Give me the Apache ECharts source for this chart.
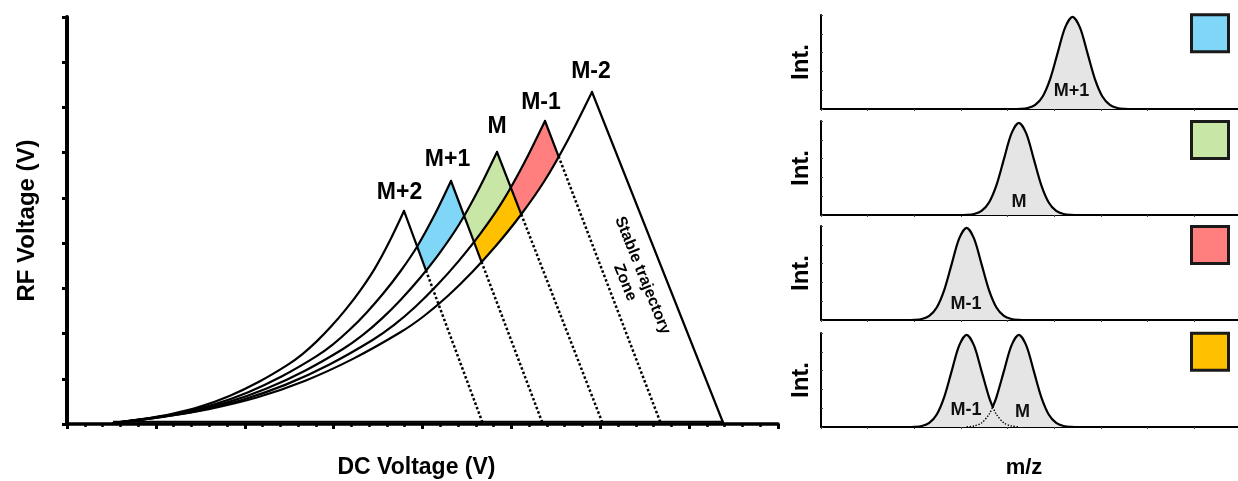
<!DOCTYPE html>
<html>
<head>
<meta charset="utf-8">
<script src="https://cdn.jsdelivr.net/npm/echarts@6/dist/echarts.min.js"></script>
<style>
  html, body { margin: 0; padding: 0; background: #fff; }
  #chart { width: 1238px; height: 481px; }
</style>
</head>
<body>
<div id="chart"></div>
<script>
// ---- left panel: stability diagrams, DC voltage (x) vs RF voltage (y) ----
const curveMp2 = [[0.5176,0.0221],[0.8450,0.1065],[1.1724,0.2190],[1.4999,0.3831],[1.8273,0.6175],[2.1547,0.9269],[2.4821,1.3067],[2.6459,1.5411],[2.8096,1.8271],[2.9733,2.1599],[3.1370,2.5350],[3.3007,2.9569],[3.4644,3.4422],[3.6281,4.0352],[3.7918,4.7103]];
const curveMp1 = [[0.5176,0.0221],[0.8979,0.1184],[1.2782,0.2469],[1.6585,0.4342],[2.0388,0.7018],[2.4191,1.0550],[2.7994,1.4885],[2.9896,1.7560],[3.1797,2.0825],[3.3699,2.4625],[3.5601,2.8906],[3.7502,3.3722],[3.9404,3.9261],[4.1305,4.6031],[4.3207,5.3737]];
const curveM   = [[0.5176,0.0221],[0.9497,0.1300],[1.3817,0.2738],[1.8138,0.4836],[2.2459,0.7832],[2.6779,1.1788],[3.1100,1.6642],[3.3260,1.9638],[3.5420,2.3294],[3.7581,2.7549],[3.9741,3.2343],[4.1901,3.7737],[4.4062,4.3940],[4.6222,5.1521],[4.8383,6.0150]];
const curveMm1 = [[0.5176,0.0221],[1.0037,0.1423],[1.4897,0.3026],[1.9758,0.5364],[2.4619,0.8703],[2.9480,1.3111],[3.4340,1.8520],[3.6771,2.1859],[3.9201,2.5933],[4.1632,3.0675],[4.4062,3.6018],[4.6492,4.2028],[4.8923,4.8941],[5.1353,5.7389],[5.3783,6.7006]];
const curveMm2 = [[0.5176,0.0221],[1.0565,0.1539],[1.5955,0.3295],[2.1344,0.5857],[2.6734,0.9517],[3.2124,1.4348],[3.7513,2.0277],[4.0208,2.3937],[4.2903,2.8402],[4.5598,3.3599],[4.8293,3.9455],[5.0987,4.6043],[5.3682,5.3619],[5.6377,6.2878],[5.9072,7.3419]];

// right-hand edges (solid part) and their dotted continuation down to the axis
const sideMp2 = [[3.7918,4.7103],[4.039,3.397]];
const sideMp1 = [[4.3207,5.3737],[4.664,3.587]];
const sideM   = [[4.8383,6.0150],[5.111,4.637]];
const sideMm1 = [[5.3783,6.7006],[5.531,5.920]];
const sideMm2 = [[5.9072,7.3419],[7.388,0]];
const dotMp2 = [[4.039,3.397],[4.681,0]];
const dotMp1 = [[4.664,3.587],[5.354,0]];
const dotM   = [[5.111,4.637],[6.030,0]];
const dotMm1 = [[5.531,5.920],[6.684,0]];
const baseLine = [[0.5176,0.05],[7.388,0.05]];

// coloured zones (corners on the curves / edges above)
const zoneBlue   = [[3.9404,3.9261],[4.1305,4.6031],[4.3207,5.3737],[4.468,4.609],[4.4062,4.3940],[4.1901,3.7737],[4.039,3.397]];
const zoneGreen  = [[4.468,4.609],[4.6222,5.1521],[4.8383,6.0150],[4.991,5.241],[4.8923,4.8941],[4.6492,4.2028],[4.579,4.029]];
const zoneOrange = [[4.579,4.029],[4.6492,4.2028],[4.8923,4.8941],[4.991,5.241],[5.111,4.637],[5.0987,4.6043],[4.8293,3.9455],[4.664,3.587]];
const zoneRed    = [[4.991,5.241],[5.1353,5.7389],[5.3783,6.7006],[5.531,5.920],[5.3682,5.3619],[5.111,4.637]];

const diagramLabels = [
  { text: 'M+2', x: 399.5, y: 192.5 },
  { text: 'M+1', x: 447.5, y: 160 },
  { text: 'M',   x: 497,   y: 126.5 },
  { text: 'M-1', x: 541,   y: 102.5 },
  { text: 'M-2', x: 591,   y: 71.5 }
];

// ---- right panels: spectra ----
const peakMp1 = [[4.09,0],[4.27,0.002],[4.43,0.011],[4.59,0.043],[4.75,0.133],[4.91,0.318],[5.07,0.594],[5.23,0.865],[5.39,0.98],[5.55,0.865],[5.71,0.594],[5.87,0.318],[6.03,0.133],[6.19,0.043],[6.35,0.011],[6.51,0.002],[6.69,0]];
const peakM   = [[2.94,0],[3.12,0.002],[3.28,0.011],[3.44,0.043],[3.60,0.133],[3.76,0.318],[3.92,0.594],[4.08,0.865],[4.24,0.98],[4.40,0.865],[4.56,0.594],[4.72,0.318],[4.88,0.133],[5.04,0.043],[5.20,0.011],[5.36,0.002],[5.54,0]];
const peakMm1 = [[1.82,0],[2.00,0.002],[2.16,0.011],[2.32,0.043],[2.48,0.133],[2.64,0.318],[2.80,0.594],[2.96,0.865],[3.12,0.98],[3.28,0.865],[3.44,0.594],[3.60,0.318],[3.76,0.133],[3.92,0.043],[4.08,0.011],[4.24,0.002],[4.42,0]];
// last panel: both peaks, they cross at x = 3.68
const mixMm1 = [[1.82,0],[2.00,0.002],[2.16,0.011],[2.32,0.043],[2.48,0.133],[2.64,0.318],[2.80,0.594],[2.96,0.865],[3.12,0.98],[3.28,0.865],[3.44,0.594],[3.60,0.318],[3.68,0.214],[3.76,0.133],[3.92,0.043],[4.08,0.011],[4.24,0.002],[4.42,0]];
const mixM   = [[2.94,0],[3.12,0.002],[3.28,0.011],[3.44,0.043],[3.60,0.133],[3.68,0.214],[3.76,0.318],[3.92,0.594],[4.08,0.865],[4.24,0.98],[4.40,0.865],[4.56,0.594],[4.72,0.318],[4.88,0.133],[5.04,0.043],[5.20,0.011],[5.36,0.002],[5.54,0]];
const crossX = 3.68;

const panelLabels = [
  { text: 'M+1', x: 1071.5, y: 91.5 },
  { text: 'M',   x: 1019,   y: 202.5 },
  { text: 'M-1', x: 966,    y: 304 },
  { text: 'M-1', x: 966,    y: 410.5 },
  { text: 'M',   x: 1022.5, y: 412 }
];
const swatchColors = ['#7fd6f7', '#c8e6a6', '#ff7f7f', '#ffc000'];
const swatchTops = [14.8, 121.5, 226.5, 333.2];

const FONT = '"Liberation Sans", Arial, Helvetica, sans-serif';

const chart = echarts.init(document.getElementById('chart'));

const panelTops = [15, 121, 226, 333];
const grids = [{ left: 67, top: 17, width: 711, height: 407, outerBoundsMode: 'none' }];
panelTops.forEach(t => grids.push({ left: 821, top: t, width: 420, height: 94, outerBoundsMode: 'none' }));

const xAxes = [{
  gridIndex: 0, type: 'value', min: 0, max: 8, interval: 1,
  name: 'DC Voltage (V)', nameLocation: 'middle', nameGap: 32,
  nameTextStyle: { fontFamily: FONT, fontWeight: 'bold', fontSize: 23, color: '#000', padding: [0, 12, 0, 0] },
  axisLine: { lineStyle: { color: '#000', width: 3.5 } },
  axisTick: { show: true, length: 5, lineStyle: { color: '#000', width: 3 } },
  minorTick: { show: true, splitNumber: 5, length: 3, lineStyle: { color: '#000', width: 2.5 } },
  axisLabel: { show: false }, splitLine: { show: false }
}];
const yAxes = [{
  gridIndex: 0, type: 'value', min: 0, max: 9, interval: 1,
  name: 'RF Voltage (V)', nameLocation: 'middle', nameGap: 28,
  nameTextStyle: { fontFamily: FONT, fontWeight: 'bold', fontSize: 24, color: '#000' },
  axisLine: { lineStyle: { color: '#000', width: 4 } },
  axisTick: { show: true, length: 5, lineStyle: { color: '#000', width: 3 } },
  axisLabel: { show: false }, splitLine: { show: false }
}];
for (let i = 1; i <= 4; i++) {
  xAxes.push({
    gridIndex: i, type: 'value', min: 0, max: 9, interval: 1,
    name: i === 4 ? 'm/z' : '', nameLocation: 'middle', nameGap: 30,
    nameTextStyle: { fontFamily: FONT, fontWeight: 'bold', fontSize: 22, color: '#000', padding: [0, 14, 0, 0] },
    axisLine: { lineStyle: { color: '#000', width: 2 } },
    axisTick: { show: true, length: 2, lineStyle: { color: '#444', width: 1 } },
    axisLabel: { show: false }, splitLine: { show: false }
  });
  yAxes.push({
    gridIndex: i, type: 'value', min: 0, max: 1, interval: 0.2,
    name: 'Int.', nameLocation: 'middle', nameGap: 8,
    nameTextStyle: { fontFamily: FONT, fontWeight: 'bold', fontSize: 24, color: '#000' },
    axisLine: { lineStyle: { color: '#000', width: 2 } },
    axisTick: { show: true, inside: true, length: 2, lineStyle: { color: '#444', width: 1 } },
    axisLabel: { show: false }, splitLine: { show: false }
  });
}

function line(data, opts) {
  return Object.assign({
    type: 'line', xAxisIndex: 0, yAxisIndex: 0, data: data,
    symbol: 'none', silent: true, z: 3,
    lineStyle: { color: '#000', width: 2.2, cap: 'round', join: 'round' }
  }, opts || {});
}
function dotted(data, idx, width, gap) {
  return line(data, {
    xAxisIndex: idx, yAxisIndex: idx,
    lineStyle: { color: '#000', width: width, type: [width, gap], cap: 'butt' }
  });
}
function zone(points, color) {
  return {
    type: 'custom', xAxisIndex: 0, yAxisIndex: 0, data: points, silent: true, z: 2,
    renderItem: function (params, api) {
      if (params.dataIndex !== 0) return null;
      return {
        type: 'polygon',
        shape: { points: points.map(p => api.coord(p)) },
        style: { fill: color, stroke: null }
      };
    }
  };
}
function peak(data, idx, withLine) {
  return line(data, {
    xAxisIndex: idx, yAxisIndex: idx, smooth: 0.3,
    areaStyle: { color: '#e5e5e5', opacity: 1 },
    lineStyle: { color: '#000', width: withLine ? 2.2 : 0 }
  });
}

const series = [
  zone(zoneBlue, '#7fd6f7'),
  zone(zoneGreen, '#c8e6a6'),
  zone(zoneOrange, '#ffc000'),
  zone(zoneRed, '#ff7f7f'),
  line(curveMp2, { smooth: 0.3 }),
  line(curveMp1, { smooth: 0.3 }),
  line(curveM, { smooth: 0.3 }),
  line(curveMm1, { smooth: 0.3 }),
  line(curveMm2, { smooth: 0.3 }),
  line(sideMp2), line(sideMp1), line(sideM), line(sideMm1), line(sideMm2),
  line(baseLine, { lineStyle: { color: '#000', width: 2 } }),
  dotted(dotMp2, 0, 2.5, 2.2), dotted(dotMp1, 0, 2.5, 2.2), dotted(dotM, 0, 2.5, 2.2), dotted(dotMm1, 0, 2.5, 2.2),
  peak(peakMp1, 1, true),
  peak(peakM, 2, true),
  peak(peakMm1, 3, true),
  peak(mixMm1, 4, false),
  peak(mixM, 4, false),
  line(mixMm1.filter(p => p[0] <= crossX), { xAxisIndex: 4, yAxisIndex: 4, smooth: 0.3 }),
  line(mixM.filter(p => p[0] >= crossX), { xAxisIndex: 4, yAxisIndex: 4, smooth: 0.3 }),
  Object.assign(dotted(mixMm1.filter(p => p[0] >= crossX && p[1] > 0.001), 4, 1.4, 1.6), { smooth: 0.3 }),
  Object.assign(dotted(mixM.filter(p => p[0] <= crossX && p[1] > 0.001), 4, 1.4, 1.6), { smooth: 0.3 })
];

const graphics = [];
diagramLabels.forEach(l => graphics.push({
  type: 'text', x: l.x, y: l.y, z: 10,
  style: { text: l.text, fontFamily: FONT, fontWeight: 'bold', fontSize: 23, fill: '#000', align: 'center', verticalAlign: 'middle' }
}));
panelLabels.forEach(l => graphics.push({
  type: 'text', x: l.x, y: l.y, z: 10,
  style: { text: l.text, fontFamily: FONT, fontWeight: 'bold', fontSize: 18, fill: '#111', align: 'center', verticalAlign: 'middle' }
}));
graphics.push({
  type: 'text', x: 633.7, y: 279, rotation: -68 * Math.PI / 180, z: 10,
  style: { text: 'Stable trajectory\nZone', fontFamily: FONT, fontWeight: 'bold', fontSize: 16, lineHeight: 19, fill: '#000', align: 'center', verticalAlign: 'middle' }
});
swatchColors.forEach((c, i) => graphics.push({
  type: 'rect', z: 10,
  shape: { x: 1191.5, y: swatchTops[i], width: 37, height: 37 },
  style: { fill: c, stroke: '#1a1a1a', lineWidth: 3 }
}));

chart.setOption({
  animation: false,
  backgroundColor: '#fff',
  grid: grids,
  xAxis: xAxes,
  yAxis: yAxes,
  series: series,
  graphic: graphics
});
</script>
</body>
</html>
